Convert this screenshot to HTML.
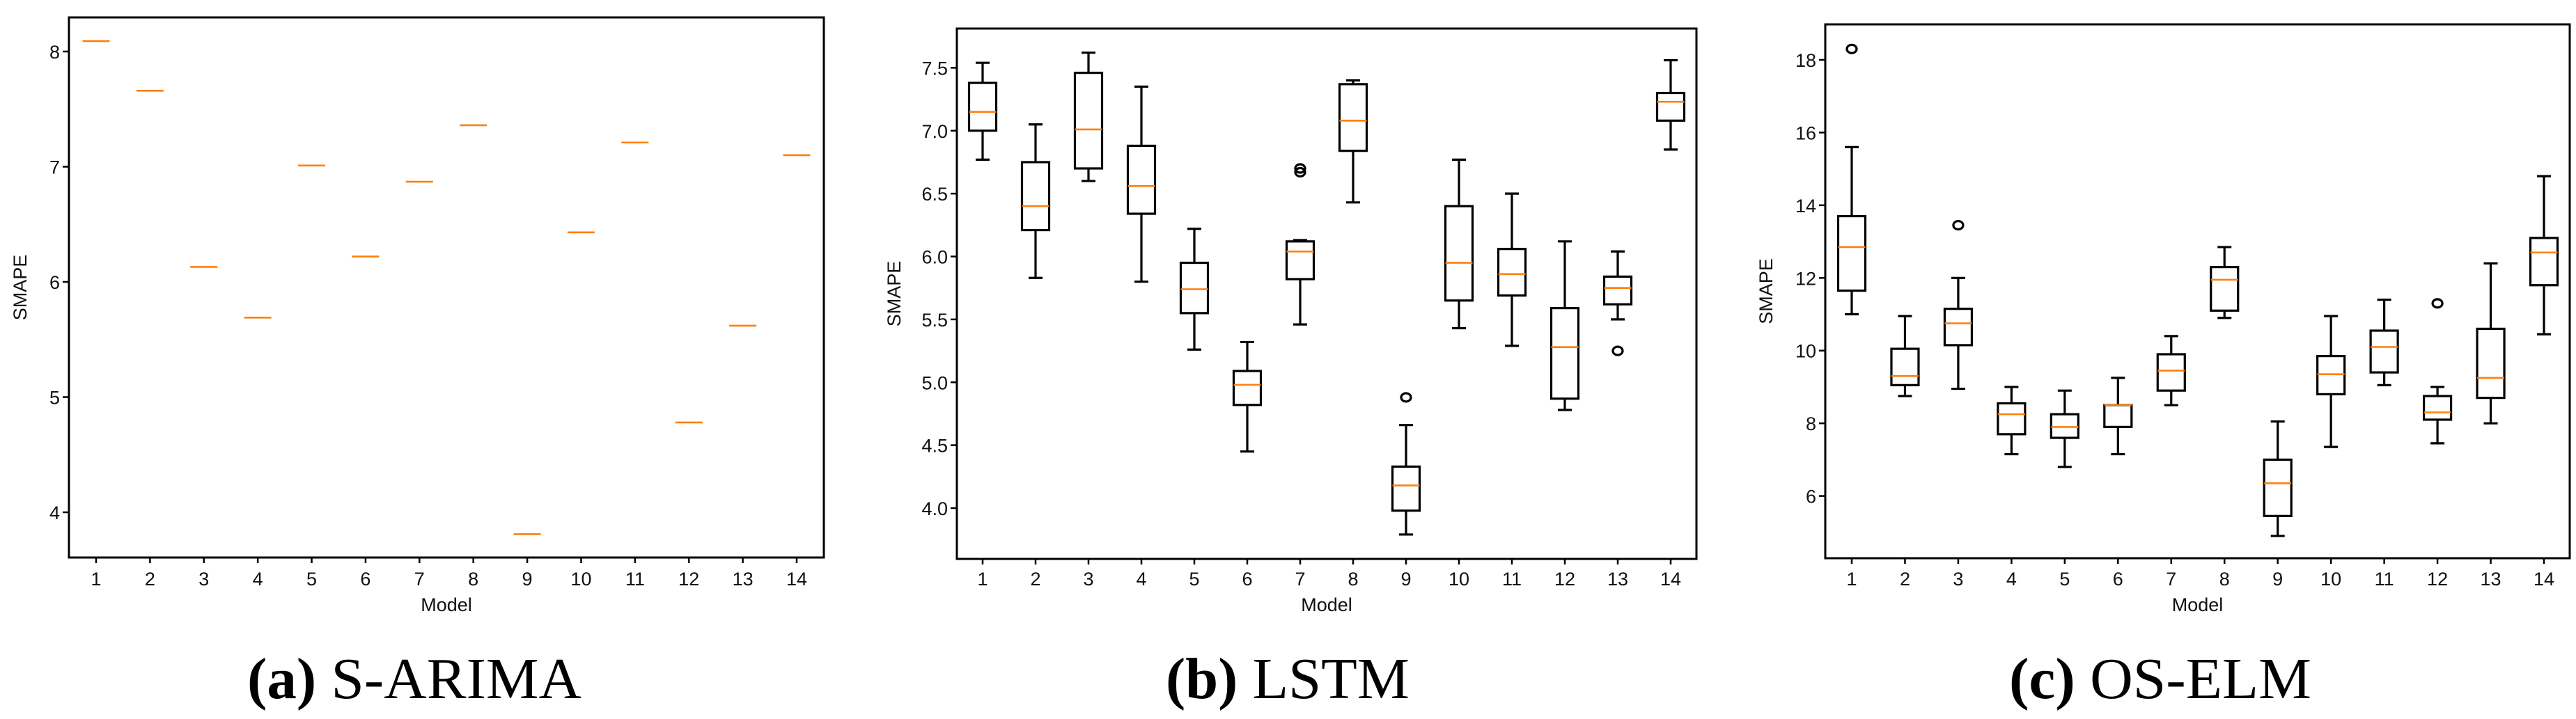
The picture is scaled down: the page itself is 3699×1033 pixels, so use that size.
<!DOCTYPE html>
<html><head><meta charset="utf-8"><style>
html,body{margin:0;padding:0;background:#fff;overflow:hidden;}
svg{display:block;}
text{font-family:"Liberation Sans",sans-serif;fill:#111;}
.cap{font-family:"Liberation Serif",serif;font-size:84px;fill:#000;}
</style></head><body>
<svg id="fig" width="3699" height="1033" viewBox="0 0 3699 1033" xmlns="http://www.w3.org/2000/svg">
<text class="cap" x="355" y="1003" textLength="480" lengthAdjust="spacingAndGlyphs"><tspan font-weight="bold">(a)</tspan> S-ARIMA</text>
<text class="cap" x="1674" y="1003" textLength="350" lengthAdjust="spacingAndGlyphs"><tspan font-weight="bold">(b)</tspan> LSTM</text>
<text class="cap" x="2885" y="1003" textLength="434" lengthAdjust="spacingAndGlyphs"><tspan font-weight="bold">(c)</tspan> OS-ELM</text>
</svg>
<script>
const categories=["1","2","3","4","5","6","7","8","9","10","11","12","13","14"];
const arimaMedian=[8.09,7.66,6.13,5.69,7.01,6.22,6.87,7.36,3.81,6.43,7.21,4.78,5.62,7.10];
const arimaTicks=[4,5,6,7,8];
const lstmLow=[6.77,5.83,6.60,5.80,5.26,4.45,5.46,6.43,3.79,5.43,5.29,4.78,5.50,6.85];
const lstmQ1=[7.00,6.21,6.70,6.34,5.55,4.82,5.82,6.84,3.98,5.65,5.69,4.87,5.62,7.08];
const lstmMed=[7.15,6.40,7.01,6.56,5.74,4.98,6.04,7.08,4.18,5.95,5.86,5.28,5.75,7.23];
const lstmQ3=[7.38,6.75,7.46,6.88,5.95,5.09,6.12,7.37,4.33,6.40,6.06,5.59,5.84,7.30];
const lstmHigh=[7.54,7.05,7.62,7.35,6.22,5.32,6.13,7.40,4.66,6.77,6.50,6.12,6.04,7.56];
const lstmOut=[[],[],[],[],[],[],[6.67,6.70],[],[4.88],[],[],[],[5.25],[]];
const lstmTicks=["4.0","4.5","5.0","5.5","6.0","6.5","7.0","7.5"];
const elmLow=[11.0,8.75,8.95,7.15,6.8,7.15,8.5,10.9,4.9,7.35,9.05,7.45,8.0,10.45];
const elmQ1=[11.65,9.05,10.15,7.7,7.6,7.9,8.9,11.1,5.45,8.8,9.4,8.1,8.7,11.8];
const elmMed=[12.85,9.3,10.75,8.25,7.9,8.5,9.45,11.95,6.35,9.35,10.1,8.3,9.25,12.7];
const elmQ3=[13.7,10.05,11.15,8.55,8.25,8.5,9.9,12.3,7.0,9.85,10.55,8.75,10.6,13.1];
const elmHigh=[15.6,10.95,12.0,9.0,8.9,9.25,10.4,12.85,8.05,10.95,11.4,9.0,12.4,14.8];
const elmOut=[[18.3],[],[13.45],[],[],[],[],[],[],[],[],[11.3],[],[]];
const elmTicks=["6","8","10","12","14","16","18"];

const NS="http://www.w3.org/2000/svg";
const svg=document.getElementById('fig');
function mk(tag,attrs,parent){const e=document.createElementNS(NS,tag);for(const k in attrs)e.setAttribute(k,attrs[k]);(parent||svg).appendChild(e);return e;}

function panel(cfg){
  const g=mk('g',{});
  
  
  const yS=v=>cfg.y0px+(v-cfg.y0v)*(cfg.y1px-cfg.y0px)/(cfg.y1v-cfg.y0v);
  const xS=i=>cfg.x1+(i)*(cfg.x14-cfg.x1)/13;
  const frame=mk('rect',{x:cfg.L,y:cfg.T,width:cfg.R-cfg.L,height:cfg.B-cfg.T,fill:'none',stroke:'#000','stroke-width':3},g);
  
  
  cfg.ticks.forEach(t=>{
    const y=yS(parseFloat(t));
    const tl=mk('line',{x1:cfg.L-9,x2:cfg.L,y1:y,y2:y,stroke:'#000','stroke-width':2.5},g);
    
    
    const tx=mk('text',{x:cfg.L-13,y:y+10,'text-anchor':'end','font-size':27},g);
    tx.textContent=t;
    
    
  });
  categories.forEach((c,i)=>{
    const x=xS(i);
    const tl=mk('line',{x1:x,x2:x,y1:cfg.B,y2:cfg.B+8,stroke:'#000','stroke-width':2.5},g);
    
    
    const tx=mk('text',{x:x,y:841,'text-anchor':'middle','font-size':27},g);
    tx.textContent=c;
    
    
  });
  const xl=mk('text',{x:(cfg.L+cfg.R)/2,y:878,'text-anchor':'middle','font-size':27},g);
  xl.textContent='Model';
  
  
  const ym=(cfg.T+cfg.B)/2;
  const yl=mk('text',{x:cfg.yl,y:ym,'text-anchor':'middle','font-size':27,transform:`rotate(-90 ${cfg.yl} ${ym})`},g);
  yl.textContent='SMAPE';
  
  
  const hw=19.5;
  categories.forEach((c,i)=>{
    const x=xS(i);
    if(cfg.low){
      const bg=mk('g',{},g);
      
      
      const st={stroke:'#000','stroke-width':3.2,fill:'none'};
      mk('line',Object.assign({x1:x,x2:x,y1:yS(cfg.low[i]),y2:yS(cfg.q1[i])},st),bg);
      mk('line',Object.assign({x1:x,x2:x,y1:yS(cfg.q3[i]),y2:yS(cfg.high[i])},st),bg);
      mk('line',Object.assign({x1:x-10,x2:x+10,y1:yS(cfg.low[i]),y2:yS(cfg.low[i])},st),bg);
      mk('line',Object.assign({x1:x-10,x2:x+10,y1:yS(cfg.high[i]),y2:yS(cfg.high[i])},st),bg);
      mk('rect',Object.assign({x:x-hw,y:yS(cfg.q3[i]),width:2*hw,height:yS(cfg.q1[i])-yS(cfg.q3[i])},st),bg);
      cfg.out[i].forEach(v=>{
        const o=mk('ellipse',{cx:x,cy:yS(v),rx:7,ry:6,fill:'none',stroke:'#000','stroke-width':3.2},bg);
        
        
      });
    }
    const m=mk('line',{x1:x-hw,x2:x+hw,y1:yS(cfg.med[i]),y2:yS(cfg.med[i]),stroke:'#ff7f0e','stroke-width':2.6},g);
    
    
  });
}
panel({name:'panel-sarima',L:99,R:1183,T:25,B:801,x1:138,x14:1144,y0v:4,y0px:736,y1v:8,y1px:74,yl:38,
  ticks:arimaTicks.map(String),med:arimaMedian});
panel({name:'panel-lstm',L:1374,R:2436,T:41,B:803,x1:1411,x14:2399,y0v:4,y0px:730,y1v:7.5,y1px:97.4,yl:1293,
  ticks:lstmTicks,low:lstmLow,q1:lstmQ1,med:lstmMed,q3:lstmQ3,high:lstmHigh,out:lstmOut});
panel({name:'panel-oselm',L:2621,R:3690,T:35,B:802,x1:2659,x14:3653,y0v:6,y0px:712.6,y1v:18,y1px:86,yl:2545,
  ticks:elmTicks,low:elmLow,q1:elmQ1,med:elmMed,q3:elmQ3,high:elmHigh,out:elmOut});
</script>
</body></html>
